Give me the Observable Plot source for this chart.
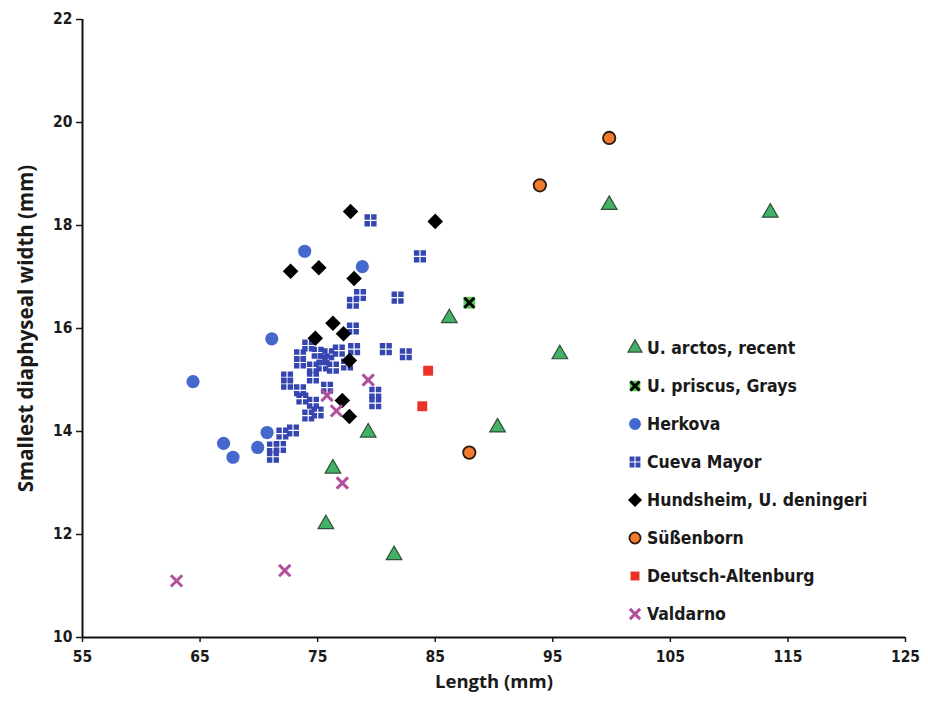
<!DOCTYPE html>
<html>
<head>
<meta charset="utf-8">
<script src="https://cdn.jsdelivr.net/npm/d3@7"></script>
<script src="https://cdn.jsdelivr.net/npm/@observablehq/plot@0.6"></script>
<style>
  body { margin: 0; background: #fff; font-family: "DejaVu Sans Condensed", "DejaVu Sans", sans-serif; }
  #wrap { position: relative; width: 928px; height: 718px; }
  #legend { position: absolute; left: 626px; top: 329px; }
  .item { display: flex; align-items: center; height: 38px; font-weight: bold; font-size: 17.5px; color: #1a1a1a; }
  .item svg { width: 18px; height: 18px; margin-right: 3px; }
</style>
</head>
<body>
<div id="wrap"><div id="legend"></div></div>
<script>
// ---- data ----
const arctos = [[99.8,18.4],[113.5,18.25],[86.2,16.2],[95.6,15.5],[90.3,14.08],[79.3,13.98],[76.3,13.28],[75.7,12.2],[81.5,11.6]];
const priscus = [[87.9,16.5]];
const herkova = [[73.9,17.5],[78.8,17.2],[71.1,15.8],[64.4,14.97],[70.7,13.98],[67.0,13.77],[67.8,13.5],[69.9,13.69]];
const cueva = [[79.5,18.1],[83.7,17.4],[81.8,16.6],[78.6,16.65],[78.0,16.5],[78.0,16.0],[78.1,15.6],[80.8,15.6],[82.5,15.5],[79.9,14.75],[79.9,14.55],
  [74.2,15.67],[73.5,15.48],[75.0,15.53],[75.9,15.5],[73.5,15.34],[74.6,15.24],[75.4,15.28],[76.3,15.24],[72.4,15.05],[74.6,15.05],
  [72.4,14.93],[73.5,14.8],[75.8,14.85],[73.7,14.64],[74.6,14.56],[74.2,14.31],[75.0,14.37],[72.9,14.02],[72.0,13.96],[71.2,13.69],
  [71.2,13.51],[71.8,13.7],[76.8,15.57],[77.5,15.3],[75.5,15.4]];
const hundsheim = [[85.0,18.08],[77.8,18.27],[72.7,17.11],[75.1,17.18],[78.1,16.97],[76.3,16.1],[77.2,15.9],[74.8,15.81],[77.7,15.38],[77.1,14.6],[77.7,14.29]];
const sussenborn = [[99.8,19.7],[93.9,18.78],[87.9,13.59]];
const deutsch = [[84.4,15.18],[83.9,14.49]];
const valdarno = [[63.0,11.1],[72.2,11.3],[77.1,13.0],[75.8,14.7],[76.6,14.4],[79.3,15.0]];
const seriesNames = ["U. arctos, recent","U. priscus, Grays","Herkova","Cueva Mayor","Hundsheim, U. deningeri","Süßenborn","Deutsch-Altenburg","Valdarno"];
const xTicks = [55,65,75,85,95,105,115,125];
const yTicks = [10,12,14,16,18,20,22];

// ---- symbols ----
const gridSquare = {
  draw(ctx, size) {
    const s = Math.sqrt(size), h = s / 2, g = s * 0.05;
    const q = [[-h, -h], [g, -h], [-h, g], [g, g]];
    for (const [x0, y0] of q) {
      const w = h - g;
      ctx.moveTo(x0, y0); ctx.lineTo(x0 + w, y0); ctx.lineTo(x0 + w, y0 + w); ctx.lineTo(x0, y0 + w); ctx.closePath();
    }
  }
};

const C = {
  green: "#44b066", greenStroke: "#2f4f3a", prisc: "#5ccb5a",
  herk: "#4468cc", cueva: "#3546b0", black: "#000", orange: "#f07a2e", red: "#e83326", purple: "#b24f9c"
};

const styles = [
  {data: arctos, symbol: "triangle", r: 5.8, fill: C.green, stroke: C.greenStroke, strokeWidth: 1.2},
  {data: priscus, symbol: "square", r: 6.6, fill: C.prisc, stroke: "none"},
  {data: herkova, symbol: "circle", r: 6.6, fill: C.herk, stroke: "none"},
  {data: cueva, symbol: gridSquare, r: 6.8, fill: C.cueva, stroke: "none"},
  {data: hundsheim, symbol: "diamond2", r: 7.0, fill: C.black, stroke: "none"},
  {data: sussenborn, symbol: "circle", r: 6.2, fill: C.orange, stroke: "#2a1a10", strokeWidth: 1.8},
  {data: deutsch, symbol: "square", r: 5.6, fill: C.red, stroke: "none"},
  {data: valdarno, symbol: "times", r: 5.2, fill: "none", stroke: C.purple, strokeWidth: 3}
];

const marks = [];
for (const st of styles) {
  const {data, ...opts} = st;
  marks.push(Plot.dot(data, {x: d => d[0], y: d => d[1], ...opts}));
}
// black cross over U. priscus
marks.push(Plot.dot(priscus, {x: d => d[0], y: d => d[1], symbol: "times", r: 4.6, stroke: "#000", strokeWidth: 3}));

const plot = Plot.plot({
  width: 928,
  height: 718,
  marginLeft: 82,
  marginRight: 23,
  marginTop: 19,
  marginBottom: 81,
  style: {fontFamily: '"DejaVu Sans Condensed", "DejaVu Sans", sans-serif', background: "#fff", color: "#1a1a1a"},
  x: {domain: [55, 125]},
  y: {domain: [10, 22]},
  marks: [
    Plot.axisX({ticks: xTicks, tickSize: 5, tickPadding: 8, strokeWidth: 1.5, fontSize: 15.5, fontWeight: "bold",
      label: "Length (mm)", labelAnchor: "center", labelOffset: 50, labelArrow: "none"}),
    Plot.axisY({ticks: yTicks, tickSize: 6, tickPadding: 4, strokeWidth: 1.5, fontSize: 15.5, fontWeight: "bold",
      label: "Smallest diaphyseal width (mm)", labelAnchor: "center", labelOffset: 64, labelArrow: "none"}),
    Plot.ruleX([55], {stroke: "#111", strokeWidth: 2}),
    Plot.ruleY([10], {stroke: "#111", strokeWidth: 2}),
    ...marks
  ]
});
d3.select(plot).selectAll('g[aria-label="x-axis label"] text')
  .style("font-size", "18.5px").style("font-weight", "bold").style("font-family", '"Open Sans", sans-serif');
d3.select(plot).selectAll('g[aria-label="y-axis label"] text')
  .style("font-size", "20.5px").style("font-weight", "bold").style("font-family", '"Open Sans", sans-serif');
document.getElementById("wrap").prepend(plot);

// ---- legend ----
const legend = d3.select("#legend");
seriesNames.forEach((name, i) => {
  const st = styles[i];
  const item = legend.append("div").attr("class", "item");
  const svg = item.append("svg").attr("viewBox", "-9 -9 18 18");
  const sym = typeof st.symbol === "string" ? {
    triangle: d3.symbolTriangle, square: d3.symbolSquare, circle: d3.symbolCircle,
    diamond2: d3.symbolDiamond2, times: d3.symbolTimes}[st.symbol] : st.symbol;
  const size = Math.PI * (st.r * 0.9) ** 2;
  svg.append("path").attr("d", d3.symbol(sym, size)())
    .attr("fill", st.fill).attr("stroke", st.stroke === "none" ? null : st.stroke)
    .attr("stroke-width", st.strokeWidth || null);
  if (i === 1) svg.append("path").attr("d", d3.symbol(d3.symbolTimes, Math.PI * 4.2 ** 2)()).attr("fill", "none").attr("stroke", "#000").attr("stroke-width", 3);
  item.append("span").text(name);
});
</script>
</body>
</html>
